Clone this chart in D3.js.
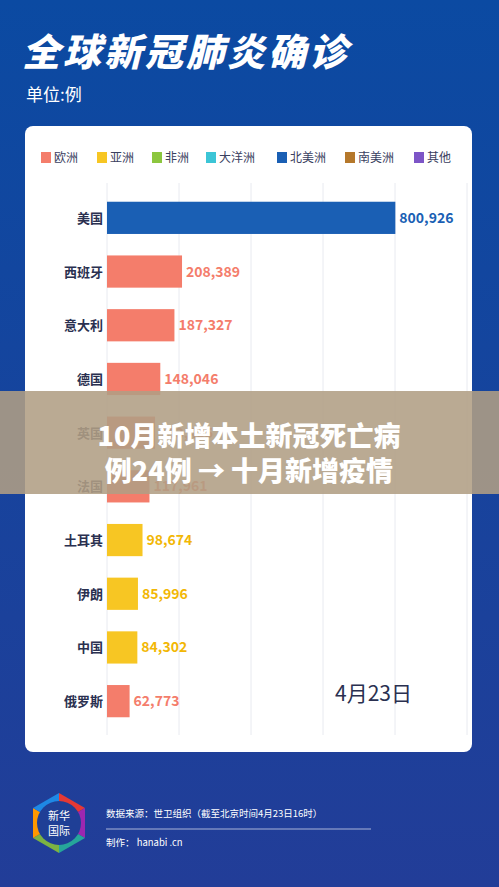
<!DOCTYPE html><html><head><meta charset="utf-8"><script src="https://cdn.jsdelivr.net/npm/d3@7"></script>
<style>body{margin:0;background:#1e44a0}svg{display:block;font-family:"Noto Sans CJK SC",sans-serif}</style></head><body><svg id="c" width="499" height="887"></svg>
<script>
const countries=["美国","西班牙","意大利","德国","英国","法国","土耳其","伊朗","中国","俄罗斯"];
const cases=[800926,208389,187327,148046,133495,117961,98674,85996,84302,62773];
const regions=["北美洲","欧洲","欧洲","欧洲","欧洲","欧洲","亚洲","亚洲","亚洲","欧洲"];
const legendNames=["欧洲","亚洲","非洲","大洋洲","北美洲","南美洲","其他"];
const legendColors=["#f47d6b","#f7c623","#8cc63e","#3cc5d6","#1a5fb4","#b5782b","#7d55c7"];
const ticks=[0,200000,400000,600000,800000,1000000];
const svg=d3.select("#c");
const g0=svg.append("defs").append("linearGradient").attr("id","bg").attr("x1",0).attr("y1",0).attr("x2",0).attr("y2",1);
g0.append("stop").attr("offset",0).attr("stop-color","#0b4aa2");g0.append("stop").attr("offset",1).attr("stop-color","#223d98");
svg.append("rect").attr("width",499).attr("height",887).attr("fill","url(#bg)");
svg.append("text").attr("x",22).attr("y",66).attr("fill","#fff").attr("font-size",38).attr("font-weight",900).attr("font-style","italic").attr("letter-spacing",3).text("全球新冠肺炎确诊");
svg.append("text").attr("x",26).attr("y",101).attr("fill","#fff").attr("font-size",17).text("单位:例");
svg.append("rect").attr("x",25).attr("y",126).attr("width",447).attr("height",626).attr("rx",8).attr("fill","#fff");
const cmap=d3.scaleOrdinal(legendNames,legendColors);
const lg=svg.append("g");
let lx=[41,97,152,206,277,345,414];
legendNames.forEach((n,i)=>{lg.append("rect").attr("x",lx[i]).attr("y",152).attr("width",10).attr("height",11).attr("fill",legendColors[i]);
lg.append("text").attr("x",lx[i]+13).attr("y",162).attr("font-size",12).attr("fill","#3a4060").text(n);});
const x=d3.scaleLinear().domain([0,1000000]).range([107,467]);
const y=d3.scaleBand().domain(countries).range([191,728]).paddingInner(0.4).paddingOuter(0.2);
svg.append("g").selectAll("line").data(ticks).join("line").attr("x1",d=>x(d)).attr("x2",d=>x(d)).attr("y1",183).attr("y2",735).attr("stroke","#e8eaf0");
svg.append("g").selectAll("rect").data(countries).join("rect").attr("x",x(0)).attr("y",d=>y(d)).attr("height",y.bandwidth()).attr("width",(d,i)=>x(cases[i])-x(0)).attr("fill",(d,i)=>cmap(regions[i]));
svg.append("g").selectAll("text").data(countries).join("text").attr("x",103).attr("y",d=>y(d)+y.bandwidth()/2+5).attr("text-anchor","end").attr("font-size",13).attr("font-weight",700).attr("fill","#2a3050").text(d=>d);
svg.append("g").selectAll("text").data(countries).join("text").attr("x",(d,i)=>x(cases[i])+4).attr("y",d=>y(d)+y.bandwidth()/2+5).attr("font-size",14).attr("font-weight",700).attr("fill",(d,i)=>cmap(regions[i])==="#f7c623"?"#f2b705":cmap(regions[i])).text((d,i)=>d3.format(",")(cases[i]));
svg.append("text").attr("x",335).attr("y",701).attr("font-size",21).attr("fill","#2a3050").text("4月23日");
svg.append("rect").attr("x",0).attr("y",391).attr("width",499).attr("height",103).attr("fill","rgba(176,158,132,0.88)");
svg.append("text").attr("x",249).attr("y",446).attr("text-anchor","middle").attr("font-size",27).attr("font-weight",900).attr("fill","#fff").text("10月新增本土新冠死亡病");
svg.append("text").attr("x",249).attr("y",481).attr("text-anchor","middle").attr("font-size",27).attr("font-weight",900).attr("fill","#fff").text("例24例 → 十月新增疫情");
const hx=59,hy=823,cols=["#e53935","#9c27b0","#26a69a","#7cb342","#ff9800","#1e88e5"];
cols.forEach((c,i)=>{const a0=(i*60-90)*Math.PI/180,a1=((i+1)*60-90)*Math.PI/180;
svg.append("path").attr("d",`M${hx},${hy}L${hx+30*Math.cos(a0)},${hy+30*Math.sin(a0)}L${hx+30*Math.cos(a1)},${hy+30*Math.sin(a1)}Z`).attr("fill",c);});
svg.append("circle").attr("cx",hx).attr("cy",hy).attr("r",22).attr("fill","#1f3f96");
svg.append("text").attr("x",hx).attr("y",hy-3).attr("text-anchor","middle").attr("font-size",11).attr("fill","#fff").text("新华");
svg.append("text").attr("x",hx).attr("y",hy+12).attr("text-anchor","middle").attr("font-size",11).attr("fill","#fff").text("国际");
svg.append("text").attr("x",106).attr("y",817).attr("font-size",9.5).attr("fill","#fff").text("数据来源：世卫组织（截至北京时间4月23日16时）");
svg.append("line").attr("x1",106).attr("x2",371).attr("y1",829).attr("y2",829).attr("stroke","#aab4d8");
svg.append("text").attr("x",106).attr("y",846).attr("font-size",9.5).attr("fill","#fff").text("制作： hanabi .cn");
</script></body></html>
